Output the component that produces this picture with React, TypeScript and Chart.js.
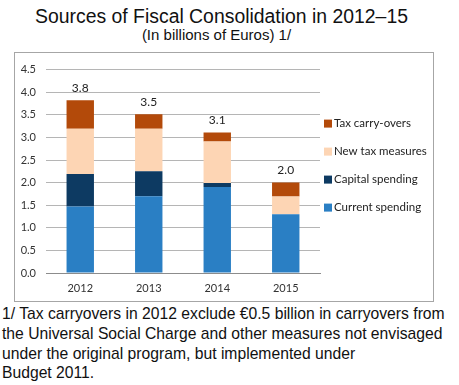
import React, { useEffect, useRef } from "react";
import { Chart, registerables } from "chart.js";

Chart.register(...registerables);

const categories = ["2012", "2013", "2014", "2015"];
const currentSpending = [1.47, 1.7, 1.9, 1.3];
const capitalSpending = [0.72, 0.55, 0.09, 0.0];
const newTaxMeasures = [1.0, 0.94, 0.92, 0.39];
const taxCarryOvers = [0.63, 0.32, 0.2, 0.31];
const totalLabels = ["3.8", "3.5", "3.1", "2.0"];
const yTicks = [0, 0.5, 1, 1.5, 2, 2.5, 3, 3.5, 4, 4.5];

const seriesNames = ["Current spending", "Capital spending", "New tax measures", "Tax carry-overs"];
const seriesColors = ["#2A7FC4", "#0D3A62", "#FDD5B4", "#B34A0A"];

const LABEL_FONT = "Lato, 'Open Sans', sans-serif";

const totalsPlugin = {
  id: "totals",
  afterDatasetsDraw(chart: any) {
    const { ctx } = chart;
    const x = chart.scales.x;
    const y = chart.scales.y;
    ctx.save();
    ctx.font = `12px ${LABEL_FONT}`;
    ctx.fillStyle = "#222";
    ctx.textAlign = "center";
    ctx.textBaseline = "middle";
    categories.forEach((_, i) => {
      const sum = chart.data.datasets.reduce((s: number, d: any) => s + (d.data[i] || 0), 0);
      ctx.fillText(totalLabels[i], x.getPixelForValue(i), y.getPixelForValue(sum) - 12);
    });
    ctx.restore();
  },
};

const legendPlugin = {
  id: "sideLegend",
  afterDraw(chart: any) {
    const { ctx, chartArea } = chart;
    const ds = chart.data.datasets.slice().reverse();
    ctx.save();
    ctx.font = `11.5px ${LABEL_FONT}`;
    ctx.textBaseline = "middle";
    ctx.textAlign = "left";
    const x0 = chartArea.right + 4;
    const y0 = chartArea.top + 54;
    ds.forEach((d: any, i: number) => {
      const cy = y0 + i * 28;
      ctx.fillStyle = d.backgroundColor;
      ctx.fillRect(x0, cy - 4, 8, 8);
      ctx.fillStyle = "#222";
      ctx.fillText(d.label, x0 + 10, cy);
    });
    ctx.restore();
  },
};

function ChartBox() {
  const ref = useRef<HTMLCanvasElement | null>(null);
  useEffect(() => {
    if (!ref.current) return;
    const values = [currentSpending, capitalSpending, newTaxMeasures, taxCarryOvers];
    const chart = new Chart(ref.current, {
      type: "bar",
      data: {
        labels: categories,
        datasets: values.map((v, i) => ({
          label: seriesNames[i],
          data: v,
          backgroundColor: seriesColors[i],
          borderWidth: 0,
          barPercentage: 0.4,
          categoryPercentage: 1,
        })),
      },
      options: {
        animation: false,
        responsive: false,
        devicePixelRatio: 1,
        layout: { padding: { top: 15, right: 113, bottom: 0, left: 0 } },
        plugins: {
          legend: { display: false },
          tooltip: { enabled: false },
          title: { display: false },
        },
        scales: {
          x: {
            stacked: true,
            grid: { display: false, drawTicks: false },
            border: { display: true, color: "#8c8c8c", width: 1 },
            ticks: { padding: 9, color: "#333", font: { family: LABEL_FONT, size: 11 } },
            afterFit(scale: any) {
              scale.height = 28;
            },
          },
          y: {
            stacked: true,
            min: 0,
            max: 4.5,
            afterBuildTicks(scale: any) {
              scale.ticks = yTicks.map((v) => ({ value: v }));
            },
            grid: { color: "#b5b5b5", drawTicks: false, lineWidth: 1 },
            border: { display: false },
            ticks: {
              padding: 10,
              color: "#333",
              font: { family: LABEL_FONT, size: 11 },
              callback: (v: any) => Number(v).toFixed(1),
            },
            afterFit(scale: any) {
              scale.width = 31;
            },
          },
        },
      },
      plugins: [totalsPlugin, legendPlugin],
    });
    return () => chart.destroy();
  }, []);
  return <canvas ref={ref} width={418} height={248} style={{ display: "block" }} />;
}

export default function App() {
  return (
    <div
      style={{
        position: "absolute",
        left: 0,
        top: 0,
        width: 459,
        height: 385,
        background: "#fff",
        fontFamily: "'Liberation Sans', Arial, sans-serif",
        color: "#111",
        overflow: "hidden",
      }}
    >
      <div style={{ position: "absolute", left: 0, width: 443, top: 5, textAlign: "center", fontSize: 19.4, lineHeight: "23px", whiteSpace: "nowrap" }}>
        Sources of Fiscal Consolidation in 2012–15
      </div>
      <div style={{ position: "absolute", left: 0, width: 433, top: 26, textAlign: "center", fontSize: 15, lineHeight: "18px", whiteSpace: "nowrap" }}>
        (In billions of Euros) 1/
      </div>
      <div
        style={{
          position: "absolute",
          left: 14,
          top: 52,
          width: 420,
          height: 250,
          border: "1px solid #a6a6a6",
          boxSizing: "border-box",
        }}
      >
        <ChartBox />
      </div>
      <div style={{ position: "absolute", left: 2, top: 304, width: 457, fontSize: 15.7, lineHeight: "19.8px", whiteSpace: "nowrap" }}>
        1/ Tax carryovers in 2012 exclude €0.5 billion in carryovers from
        <br />
        the Universal Social Charge and other measures not envisaged
        <br />
        under the original program, but implemented under
        <br />
        Budget 2011.
      </div>
    </div>
  );
}
